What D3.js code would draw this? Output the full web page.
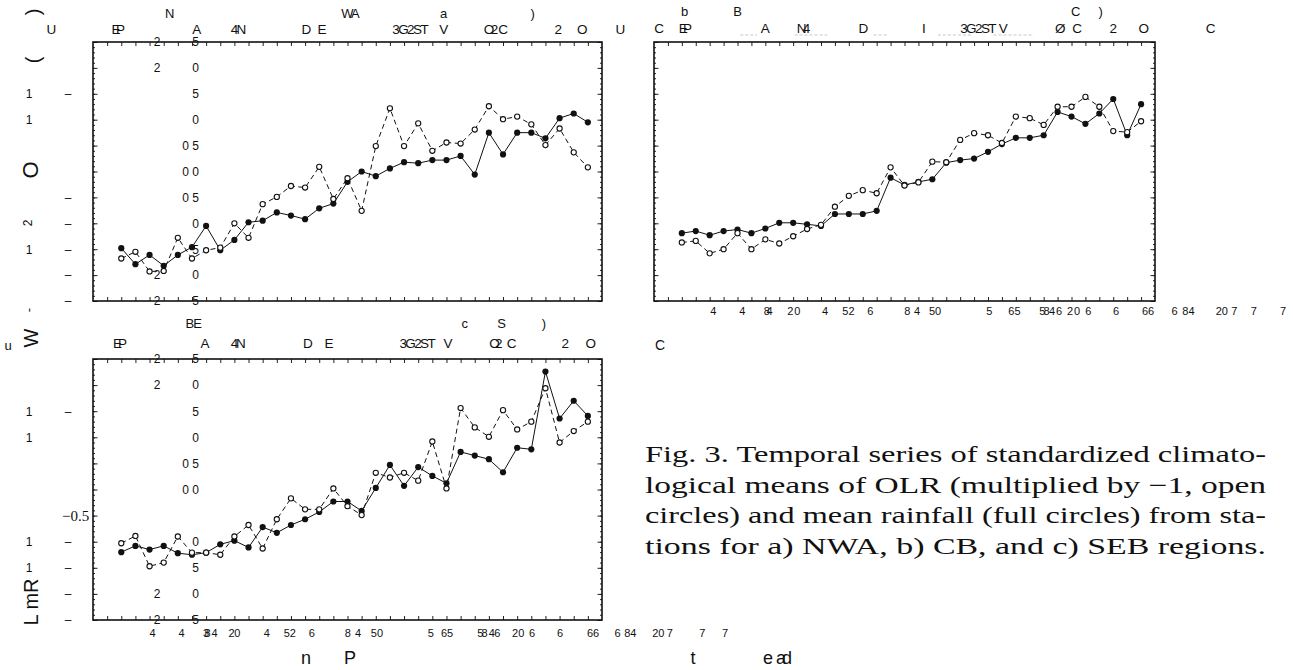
<!DOCTYPE html>
<html>
<head>
<meta charset="utf-8">
<script src="https://cdn.jsdelivr.net/npm/d3@7"></script>
<style>
body { margin: 0; background: #fff; }
text { font-family: "Liberation Sans", Arial, sans-serif; fill: #111; }
.cap { font-family: "Liberation Serif", "Times New Roman", serif; }
</style>
</head>
<body>
<svg id="fig" width="1293" height="670"></svg>
<script>
// year index along the x axis
var years = [0,1,2,3,4,5,6,7,8,9,10,11,12,13,14,15,16,17,18,19,20,21,22,23,24,25,26,27,28,29,30,31,32,33];

// a) NWA
var nwaRain = [-1.48,-1.79,-1.61,-1.82,-1.61,-1.46,-1.05,-1.52,-1.32,-0.98,-0.95,-0.79,-0.85,-0.92,-0.71,-0.62,-0.20,0.00,-0.09,0.06,0.18,0.16,0.22,0.22,0.30,-0.06,0.75,0.33,0.75,0.75,0.64,1.03,1.12,0.95];
var nwaOlr  = [-1.68,-1.55,-1.93,-1.92,-1.28,-1.68,-1.52,-1.47,-1.00,-1.28,-0.63,-0.49,-0.28,-0.31,0.09,-0.53,-0.13,-0.76,0.49,1.22,0.49,0.93,0.40,0.56,0.54,0.81,1.26,1.01,1.06,0.91,0.51,0.83,0.37,0.08];
// b) CB
var cbRain = [-1.19,-1.15,-1.23,-1.15,-1.12,-1.19,-1.10,-0.99,-0.99,-1.02,-1.05,-0.82,-0.82,-0.82,-0.76,-0.12,-0.26,-0.20,-0.15,0.17,0.22,0.25,0.38,0.53,0.65,0.65,0.70,1.15,1.06,0.92,1.12,1.40,0.70,1.30];
var cbOlr  = [-1.37,-1.34,-1.58,-1.50,-1.19,-1.50,-1.31,-1.39,-1.25,-1.11,-1.03,-0.68,-0.47,-0.36,-0.42,0.08,-0.27,-0.21,0.19,0.18,0.61,0.74,0.70,0.55,1.06,1.03,0.90,1.25,1.25,1.44,1.25,0.78,0.76,0.97];
// c) SEB
var sebRain = [-1.20,-1.08,-1.15,-1.08,-1.22,-1.25,-1.21,-1.05,-0.98,-1.11,-0.72,-0.83,-0.68,-0.57,-0.43,-0.23,-0.23,-0.41,0.03,0.47,0.07,0.43,0.26,0.12,0.72,0.65,0.58,0.33,0.80,0.77,2.26,1.36,1.70,1.41];
var sebOlr  = [-1.03,-0.89,-1.47,-1.40,-0.90,-1.21,-1.21,-1.25,-0.90,-0.68,-1.13,-0.57,-0.17,-0.38,-0.38,0.02,-0.32,-0.49,0.32,0.23,0.32,0.17,0.92,0.02,1.56,1.19,1.01,1.52,1.15,1.30,1.94,0.90,1.12,1.30];

// y ticks, top to bottom, and the (broken) tick labels printed beside them
var yMajor = [2.5,2,1.5,1,0.5,0,-0.5,-1,-1.5,-2,-2.5];
var yLabA1 = ["2","2","","","","","","","","2","2"];
var yLabA2 = ["5","0","5","0","0 5","0 0","0 5","0","5","0","5"];
var yLabC2 = ["5","0","5","0","0 5","0 0","","0","5","0","5"];
var outA1 = ["","","1","1","","","","","1","",""];
var outA2 = ["","","–","","","","–","–","–","–","–"];
var outC1 = ["","","1","1","","","","1","1","",""];
var outC2 = ["","","–","","","","","–","–","–","–"];

// labels above each panel (row 1, row 2) in year-index units;
// a nested list is one squeezed group of glyphs
var topA1 = ["N", ["W","A"], "a", ")"];
var topA1At = [3.42, [16.0,16.55], 22.8, 29.1];
var topA2 = ["U", ["E","P"], "A", ["4","N"], ["D","E"], ["3G2ST","V"], ["O","2","C"], "2", "O", "U"];
var topA2At = [-4.94, [-0.37,-0.05], 5.33, [8.0,8.5], [13.1,14.2], [20.4,22.8], [26.0,26.4,27.0], 30.9, 32.6, 35.3];
var topB1 = ["b", "B", ["C",")"]];
var topB1At = [0.2, 4.0, [28.3,30.1]];
var topB2 = ["C", ["E","P"], "A", ["N","4"], "D", "I", ["3G2ST","V"], ["Ø","C"], "2", "O", "C"];
var topB2At = [-1.63, [0.1,0.4], 6.0, [8.6,8.95], 13.05, 17.4, [21.25,23.1], [27.2,28.4], 31.0, 33.2, 38.0];
var topC1 = [["B","E"], "c", ["S",")"]];
var topC1At = [[4.85,5.4], 24.3, [26.9,29.9]];
var topC2 = [["E","P"], "A", ["4","N"], ["D","E"], ["3G2ST","V"], ["O","2","C"], "2", "O"];
var topC2At = [[-0.26,0.09], 5.93, [8.0,8.46], [13.2,14.7], [20.9,23.1], [26.4,26.7,27.6], 31.4, 33.2];

// broken labels under panels b and c
var botB = ["4","4",["8","4"],["2","0"],"4","52","6",["8","4"],"50","5","65",["5","8","4","6","2","0","6"],"6","66",["6","84"],["20","7"],"7","7"];
var botBAt = [2.26,4.35,[6.1,6.3],[7.8,8.3],10.3,11.97,13.55,[16.2,16.9],18.2,22.1,23.9,[25.9,26.2,26.6,27.1,27.9,28.4,29.2],31.2,33.5,[35.4,36.4],[38.8,39.7],41.1,43.2];
var botC = ["4","4",["3","8","4"],["2","0"],"4","52","6",["8","4"],"50","5","65",["5","8","4","6"],"20","6","6","66",["6","84"],["20","7"],"7","7"];
var botCAt = [2.22,4.27,[6.0,6.1,6.6],[7.8,8.2],10.29,11.92,13.48,[16.03,16.74],18.08,21.9,23.04,[25.4,25.7,26.2,26.6],28.07,29.06,31.04,33.37,[35.1,36.0],[37.98,38.8],41.1,42.7];

// faint grey dashes above panel b
var greyB = [[4.2,5.4],[8.1,10.45],[13.78,14.85],[18.4,20.8],[22.4,25.3]];

var caption = [
  "Fig. 3. Temporal series of standardized climato-",
  "logical means of OLR (multiplied by \u22121, open",
  "circles) and mean rainfall (full circles) from sta-",
  "tions for a) NWA, b) CB, and c) SEB regions."
];

var svg = d3.select("#fig");

// one <text> per label, squeezed groups as tspans
function labelRow(g, x, labels, at, base, size) {
  labels.forEach(function(t, i){
    var el = g.append("text").attr("y", base).attr("text-anchor", "middle")
      .style("font-size", size + "px");
    var parts = Array.isArray(t) ? t : [t];
    var pos = Array.isArray(at[i]) ? at[i] : [at[i]];
    parts.forEach(function(s, j){
      var ts = el.append("tspan").attr("x", x(pos[j])).text(s);
      if (s === "3G2ST") ts.attr("letter-spacing", "-1.6px");
    });
  });
}

function panel(p) {
  var x = d3.scaleLinear().domain([-2, 34]).range([p.x0, p.x1]);
  var y = d3.scaleLinear().domain([-2.5, 2.5]).range([p.y1, p.y0]);
  var g = svg.append("g");

  var xt = d3.range(-1, 34);
  var minor = d3.range(-25, 26).map(function(d){ return d / 10; });

  g.append("g").attr("transform", "translate(0," + p.y1 + ")")
    .call(d3.axisBottom(x).tickValues(xt).tickSize(-4).tickFormat(""));
  g.append("g").attr("transform", "translate(0," + p.y0 + ")")
    .call(d3.axisTop(x).tickValues(xt).tickSize(-4).tickFormat(""));
  g.append("g").attr("transform", "translate(" + p.x0 + ",0)")
    .call(d3.axisLeft(y).tickValues(minor).tickSize(-2).tickFormat(""));
  g.append("g").attr("transform", "translate(" + p.x0 + ",0)")
    .call(d3.axisLeft(y).tickValues(yMajor).tickSize(-4.5).tickFormat(""));
  g.append("g").attr("transform", "translate(" + p.x1 + ",0)")
    .call(d3.axisRight(y).tickValues(minor).tickSize(-2).tickFormat(""));
  g.append("g").attr("transform", "translate(" + p.x1 + ",0)")
    .call(d3.axisRight(y).tickValues(yMajor).tickSize(-4.5).tickFormat(""));
  g.selectAll(".domain").remove();
  g.selectAll(".tick line").attr("stroke", "#222").attr("stroke-width", 1);

  g.append("rect")
    .attr("x", p.x0).attr("y", p.y0)
    .attr("width", p.x1 - p.x0).attr("height", p.y1 - p.y0)
    .attr("fill", "none").attr("stroke", "#111").attr("stroke-width", 1.6);

  var line = d3.line()
    .x(function(d, i){ return x(years[i]); })
    .y(function(d){ return y(d); });

  g.append("path").datum(p.olr)
    .attr("fill", "none").attr("stroke", "#111").attr("stroke-width", 1)
    .attr("stroke-dasharray", "5,3.5").attr("d", line);
  g.append("path").datum(p.rain)
    .attr("fill", "none").attr("stroke", "#111").attr("stroke-width", 1)
    .attr("d", line);

  g.selectAll("circle.rain").data(p.rain).enter().append("circle")
    .attr("cx", function(d, i){ return x(years[i]); })
    .attr("cy", function(d){ return y(d); })
    .attr("r", 3.1).attr("fill", "#111");
  g.selectAll("circle.olr").data(p.olr).enter().append("circle")
    .attr("cx", function(d, i){ return x(years[i]); })
    .attr("cy", function(d){ return y(d); })
    .attr("r", 2.6).attr("fill", "#fff").attr("stroke", "#111").attr("stroke-width", 1.1);

  labelRow(g, x, p.top1, p.top1At, p.top1Y, 13);
  labelRow(g, x, p.top2, p.top2At, p.top2Y, 13.5);
  if (p.bot) labelRow(g, x, p.bot, p.botAt, p.botY, 11);

  if (p.in2) {
    yMajor.forEach(function(v, k){
      g.append("text").attr("x", 157).attr("y", y(v) + 4.3)
        .attr("text-anchor", "middle").style("font-size", "12px").text(p.in1[k]);
      g.append("text").attr("x", 199).attr("y", y(v) + 4.3)
        .attr("text-anchor", "end").style("font-size", "12px").text(p.in2[k]);
      g.append("text").attr("x", 29).attr("y", y(v) + 4.3)
        .attr("text-anchor", "middle").style("font-size", "12px").text(p.out1[k]);
      g.append("text").attr("x", 68).attr("y", y(v) + 4.3)
        .attr("text-anchor", "middle").style("font-size", "12px").text(p.out2[k]);
    });
  }
  if (p.grey) {
    p.grey.forEach(function(s){
      g.append("line").attr("x1", x(s[0])).attr("x2", x(s[1]))
        .attr("y1", 35).attr("y2", 35)
        .attr("stroke", "#c8c8c8").attr("stroke-width", 1).attr("stroke-dasharray", "3,2");
    });
  }
  return { x: x, y: y };
}

panel({ x0: 93, x1: 602, y0: 42, y1: 301, rain: nwaRain, olr: nwaOlr,
  top1: topA1, top1At: topA1At, top1Y: 18, top2: topA2, top2At: topA2At, top2Y: 34,
  in1: yLabA1, in2: yLabA2, out1: outA1, out2: outA2 });
panel({ x0: 654, x1: 1155, y0: 42, y1: 301, rain: cbRain, olr: cbOlr,
  top1: topB1, top1At: topB1At, top1Y: 16, top2: topB2, top2At: topB2At, top2Y: 33,
  bot: botB, botAt: botBAt, botY: 315, grey: greyB });
var pc = panel({ x0: 93, x1: 602, y0: 359, y1: 620, rain: sebRain, olr: sebOlr,
  top1: topC1, top1At: topC1At, top1Y: 328, top2: topC2, top2At: topC2At, top2Y: 348,
  bot: botC, botAt: botCAt, botY: 637,
  in1: yLabA1, in2: yLabC2, out1: outC1, out2: outC2 });

// the one intact tick label of panel c
svg.append("text").attr("class", "cap").attr("x", 62).attr("y", pc.y(-0.5) + 5)
  .style("font-size", "15px").text("\u22120.5");

// stray pieces of the rotated axis titles
var rot = [
  { t: ")", x: 33, y: 12, s: 20 },
  { t: "(", x: 33, y: 60, s: 20 },
  { t: "O", x: 30, y: 170, s: 22 },
  { t: "2", x: 28, y: 223, s: 12 },
  { t: "-", x: 28, y: 310, s: 13 },
  { t: "W", x: 31, y: 338, s: 20 },
  { t: "L mR", x: 31, y: 602, s: 20 }
];
rot.forEach(function(r){
  svg.append("text")
    .attr("transform", "translate(" + r.x + "," + r.y + ") rotate(-90)")
    .attr("text-anchor", "middle").attr("dy", "0.35em")
    .style("font-size", r.s + "px").text(r.t);
});
var loose = [
  { t: "u", x: 8, y: 350, s: 13 },
  { t: "C", x: 660, y: 350, s: 14 },
  { t: "n", x: 306, y: 664, s: 18 },
  { t: "P", x: 350, y: 664, s: 18 },
  { t: "t", x: 693, y: 664, s: 18 }
];
loose.forEach(function(r){
  svg.append("text").attr("x", r.x).attr("y", r.y).attr("text-anchor", "middle")
    .style("font-size", r.s + "px").text(r.t);
});
var ead = svg.append("text").attr("y", 664).attr("text-anchor", "middle").style("font-size", "18px");
ead.append("tspan").attr("x", 768).text("e");
ead.append("tspan").attr("x", 781).text("a");
ead.append("tspan").attr("x", 787).text("d");

// caption, justified
caption.forEach(function(t, i){
  svg.append("text").attr("class", "cap")
    .attr("x", 645).attr("y", 462 + i * 30.5)
    .attr("textLength", 621).attr("lengthAdjust", "spacingAndGlyphs")
    .style("font-size", "23px").text(t);
});
</script>
</body>
</html>
